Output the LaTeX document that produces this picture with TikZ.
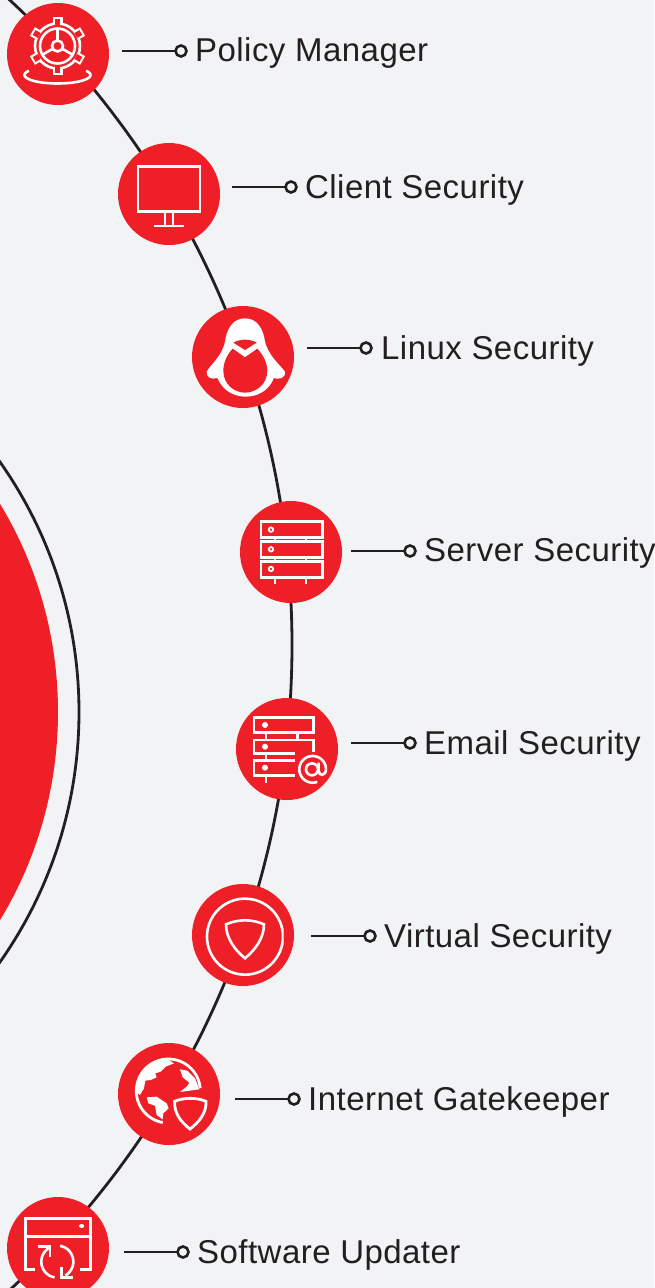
\documentclass[tikz,border=0pt]{standalone}
\usepackage{fontspec}
\setmainfont[LetterSpace=1.4]{Liberation Sans}
\definecolor{bgc}{HTML}{F2F3F5}
\definecolor{redc}{HTML}{EE1F26}
\definecolor{inkc}{HTML}{231F20}
\tikzset{
  bubble/.style={circle,fill=redc,minimum size=102pt,inner sep=0pt,outer sep=0pt},
  tip/.style={circle,draw=inkc,line width=2.6pt,fill=bgc,minimum size=11pt,inner sep=0pt,outer sep=0pt},
  lead/.style={draw=inkc,line width=2.8pt},
  ringline/.style={draw=inkc,line width=2.8pt},
  lab/.style={anchor=base west,inner sep=0pt,text=inkc,font=\fontsize{33}{38}\selectfont},
  ico/.style={draw=white,line width=2.6pt,line join=miter},
  zm/.style={x=0.3333pt,y=-0.3333pt}
}
\begin{document}
\begin{tikzpicture}[x=1pt,y=-1pt]
\useasboundingbox (0,0) rectangle (654,1288);
\fill[bgc] (0,0) rectangle (654,1288);
\begin{scope}
\clip (0,0) rectangle (654,1288);
\coordinate (bigc) at (-586,645);
\coordinate (midc) at (-356,712);
\coordinate (corec) at (-344,712);
\draw[ringline] (bigc) circle (878pt);
\draw[ringline] (midc) circle (435pt);
\fill[redc] (corec) circle (402pt);
\node[bubble] (n1) at (58,54) {};
\node[bubble] (n2) at (169,194) {};
\node[bubble] (n3) at (243,357) {};
\node[bubble] (n4) at (291,552) {};
\node[bubble] (n5) at (287,749) {};
\node[bubble] (n6) at (243,935) {};
\node[bubble] (n7) at (169,1094) {};
\node[bubble] (n8) at (58,1248) {};
\end{scope}

% labels with leaders
\foreach \nm/\xa/\xd/\xt/\yl/\yb/\txt in {
 a/122/181/195/51/61/Policy Manager,
 b/232/291/305/187/198/Client Security,
 c/307/366/381/348/359/Linux Security,
 d/351/410/424/551/561/Server Security,
 e/351/410/424/743/754/Email Security,
 f/311/370/384/936/947/Virtual Security,
 g/235/294/308/1099/1110/Internet Gatekeeper,
 h/124/183/197/1252/1263/Software Updater}{
  \coordinate (s\nm) at (\xa,\yl);
  \node[tip] (t\nm) at (\xd,\yl) {};
  \draw[lead] (s\nm) -- (t\nm);
  \node[lab] (l\nm) at (\xt,\yb) {\txt};
}

% gear icon
\begin{scope}[ico,shift={(57.5pt,-46pt)}]
  \foreach \a in {30,90,...,330} {
    \begin{scope}[rotate=\a]
    \fill[white] (21,-5) rectangle (29,5);
    \end{scope}
  }
  \draw (0,0) circle (22.5pt);
  \foreach \a in {30,90,...,330} {
    \begin{scope}[rotate=\a]
    \fill[redc] (21,-2.8) rectangle (27,2.8);
    \end{scope}
  }
  \draw (0,0) circle (17.5pt);
  \draw (0,0) circle (5.5pt);
  \foreach \a in {90,210,330} \draw ({5.5*cos(\a)},{-5.5*sin(\a)}) -- ({17.5*cos(\a)},{-17.5*sin(\a)});
  \draw plot[domain=-30:210,samples=50] ({33*cos(\x)},{29+8.5*sin(\x)});
\end{scope}

% monitor icon
\begin{scope}[ico]
  \draw (138,166.5) rectangle (200,211.5);
  \draw (165,212) -- (165,226) (173,212) -- (173,226);
  \draw (154,226) -- (184,226);
\end{scope}

% penguin icon
\begin{scope}[zm,shift={(180pt,-300pt)}]
  \fill[white] (195,55) .. controls (160,55) and (140,85) .. (135,125)
     .. controls (125,170) and (95,190) .. (80,215)
     .. controls (78,232) and (95,240) .. (112,234)
     .. controls (130,275) and (165,290) .. (197,290)
     .. controls (230,290) and (265,275) .. (282,234)
     .. controls (295,240) and (318,235) .. (315,215)
     .. controls (295,190) and (265,165) .. (255,125)
     .. controls (250,85) and (230,55) .. (195,55) -- cycle;
  \fill[redc] (195,172) -- (158,146) .. controls (140,165) and (130,190) .. (130,212)
     .. controls (130,255) and (165,278) .. (195,278)
     .. controls (225,278) and (262,255) .. (262,212)
     .. controls (262,190) and (250,165) .. (232,146) -- cycle;
  \fill[redc] (160,128) .. controls (180,116) and (210,116) .. (230,128)
     -- (195,150) -- cycle;
\end{scope}

% server icon
\begin{scope}[ico,zm,shift={(180pt,-300pt)}]
  \draw (243,665) rectangle (427,712);
  \draw (243,725) rectangle (427,772);
  \draw (243,784) rectangle (427,832);
  \foreach \yy in {689,748,807} \draw[line width=1.8pt] (273,\yy) circle (2.2pt);
  \foreach \xx in {285,378} {
    \draw (\xx,712) -- (\xx,725) (\xx,772) -- (\xx,784) (\xx,832) -- (\xx,851);
  }
\end{scope}

% email icon
\begin{scope}[ico,zm,shift={(180pt,-690pt)}]
  \draw (222,82) rectangle (400,128);
  \draw (258,128) -- (258,150) (352,128) -- (352,150);
  \draw (400,186) -- (400,150) -- (222,150) -- (222,191) -- (346,191);
  \draw (258,191) -- (258,212);
  \draw (346,212) -- (222,212) -- (222,256) -- (346,256);
  \draw (258,256) -- (258,279);
  \foreach \yy in {105,170,233} \fill[white] (255,\yy) circle (3pt);
  \draw (396,238) circle (6pt);
  \draw plot[domain=0:290,samples=50] ({398+40*cos(\x)},{238-40*sin(\x)});
  \draw (416,218) -- (416,242) .. controls (416,260) and (438,258) .. (438,238);
\end{scope}

% virtual icon
\begin{scope}[ico,zm,shift={(180pt,-690pt)}]
  \begin{scope}
  \clip (60,600) rectangle (311,880);
  \draw (195,740) circle (38pt);
  \end{scope}
  \draw (138,703) .. controls (175,687) and (215,687) .. (252,703)
     .. controls (252,745) and (225,780) .. (195,805)
     .. controls (165,780) and (138,745) .. (138,703) -- cycle;
\end{scope}

% globe icon
\begin{scope}[zm,shift={(0pt,-1040pt)}]
  \draw[ico,line width=2.8pt] plot[domain=-5:-260,samples=60] ({505+96*cos(\x)},{153+96*sin(\x)});
  \fill[white] (415,110) -- (450,70) -- (500,56) -- (522,70) -- (497,80) -- (482,95) -- (466,100) -- (470,112) -- (452,120) -- (436,122) -- (432,145) -- (420,165) -- (408,155) -- cycle;
  \fill[white] (440,172) -- (470,170) -- (500,190) -- (506,205) -- (490,220) -- (488,238) -- (470,225) -- (465,197) -- (445,190) -- cycle;
  \fill[white] (540,88) -- (562,92) -- (585,115) -- (598,148) -- (540,156) -- (560,140) -- (568,128) -- (548,112) -- cycle;
  \fill[redc] (522,182) .. controls (552,168) and (590,168) .. (620,182)
     .. controls (622,220) and (600,250) .. (570,272)
     .. controls (540,250) and (520,220) .. (522,182) -- cycle;
  \draw[ico,line width=2.8pt] (524,184) .. controls (552,172) and (590,172) .. (618,184)
     .. controls (620,218) and (598,246) .. (570,267)
     .. controls (542,246) and (522,218) .. (524,184) -- cycle;
\end{scope}

% updater icon
\begin{scope}[ico,zm,shift={(0pt,-1040pt)}]
  \draw (105,688) -- (76,688) -- (76,535) -- (272,535) -- (272,688) -- (240,688);
  \draw (76,590) -- (272,590);
  \fill[white] (245,558) ellipse (2.6pt and 2pt);
  \draw plot[domain=100:240,samples=30] ({172+48*cos(\x)},{665+48*sin(\x)});
  \draw (115,620) -- (150,620) -- (150,652);
  \draw plot[domain=280:420,samples=30] ({172+48*cos(\x)},{665+48*sin(\x)});
  \draw (220,712) -- (185,712) -- (185,680);
\end{scope}
\end{tikzpicture}
\end{document}
